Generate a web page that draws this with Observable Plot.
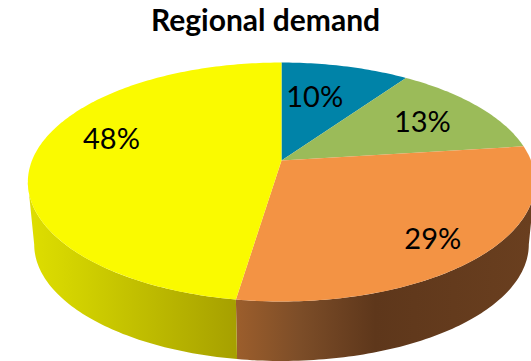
<!DOCTYPE html>
<html>
<head>
<meta charset="utf-8">
<script src="https://cdn.jsdelivr.net/npm/d3@7"></script>
<script src="https://cdn.jsdelivr.net/npm/@observablehq/plot@0.6"></script>
<style>
html,body{margin:0;padding:0;background:#fff;overflow:hidden}
#title{height:40px;width:531px;text-align:center;font:700 30px Lato,sans-serif;line-height:38px;color:#000;box-sizing:border-box}
svg{display:block}
</style>
</head>
<body>
<div id="title"></div>
<div id="chart"></div>
<script>
const chartTitle = "Regional demand";
const regions = ["Region A", "Region B", "Region C", "Region D"];
const shares = [9.7, 13.3, 29.4, 47.6];
const sliceColors = ["#0083A8", "#9BBB59", "#F39344", "#FAFA00"];
const wallStops = [
  [],
  [],
  [[236, "#9C5E2C"], [300, "#7C4D28"], [375, "#5E371B"], [531, "#6A3F1F"]],
  [[30, "#DEDE00"], [75, "#D2D200"], [236, "#A6A000"]]
];
const labelNudges = [[-7.5, -3], [19.5, -3.6], [38, 25], [-22, -16]];

// Perspective model of the pie disc, in pie-radius units
const W = 531, H = 321, unit = 249.5, apexX = 281, apexY = 120;
const persp = 0.18, tilt = 115.6 / unit;
const drop = 63 / unit, bottomScale = 0.975;

function project(r, deg, s = 1, offset = 0) {
  const a = deg * Math.PI / 180;
  const u = r * Math.sin(a), v = -r * Math.cos(a), d = 1 - persp * v;
  return {x: s * u / d, y: s * tilt * v / d + offset};
}
const total = d3.sum(shares);
const cum = d3.cumsum(shares);
const ranges = shares.map((s, i) => [(cum[i] - s) / total * 360, cum[i] / total * 360]);

function arc(a0, a1, s, offset) {
  const n = Math.max(1, Math.ceil(a1 - a0));
  return d3.range(n + 1).map(i => project(1, a0 + (a1 - a0) * i / n, s, offset));
}
const tops = ranges.map(([a0, a1]) => [project(0, 0), ...arc(a0, a1), project(0, 0)]);

const silhouette = Math.acos(-persp) * 180 / Math.PI;
const walls = ranges.map(([a0, a1]) => {
  const lo = Math.max(a0, silhouette), hi = Math.min(a1, 360 - silhouette);
  if (hi <= lo) return null;
  return [...arc(lo, hi), ...arc(lo, hi, bottomScale, drop).reverse()];
});

const labelMarks = shares.map((s, i) => {
  const mid = (ranges[i][0] + ranges[i][1]) / 2;
  return Plot.text([project(0.6, mid)], {
    x: "x", y: "y", text: () => `${Math.round(s / total * 100)}%`,
    dx: labelNudges[i][0], dy: labelNudges[i][1],
    fontSize: 29, fontFamily: "Lato, sans-serif", fill: "#000", stroke: "none"
  });
});

const gradients = () => {
  const ns = "http://www.w3.org/2000/svg";
  const defs = document.createElementNS(ns, "defs");
  wallStops.forEach((stops, i) => {
    if (!stops.length) return;
    const g = document.createElementNS(ns, "linearGradient");
    g.setAttribute("id", `wall${i}`);
    g.setAttribute("gradientUnits", "userSpaceOnUse");
    g.setAttribute("x1", 0); g.setAttribute("x2", W);
    g.setAttribute("y1", 0); g.setAttribute("y2", 0);
    stops.forEach(([x, c]) => {
      const st = document.createElementNS(ns, "stop");
      st.setAttribute("offset", x / W);
      st.setAttribute("stop-color", c);
      g.appendChild(st);
    });
    defs.appendChild(g);
  });
  return defs;
};

document.getElementById("title").textContent = chartTitle;
const chart = Plot.plot({
  width: W, height: H,
  margin: 0,
  style: {background: "#fff", overflow: "hidden"},
  x: {domain: [-apexX / unit, (W - apexX) / unit], range: [0, W], axis: null},
  y: {domain: [-apexY / unit, (H - apexY) / unit], range: [0, H], axis: null},
  marks: [
    gradients,
    ...walls.map((w, i) => w ? Plot.line(w, {x: "x", y: "y", fill: `url(#wall${i})`, stroke: "none"}) : null),
    ...tops.map((t, i) => Plot.line(t, {x: "x", y: "y", fill: sliceColors[i], stroke: "none"})),
    ...labelMarks
  ]
});
document.getElementById("chart").appendChild(chart);
</script>
</body>
</html>
